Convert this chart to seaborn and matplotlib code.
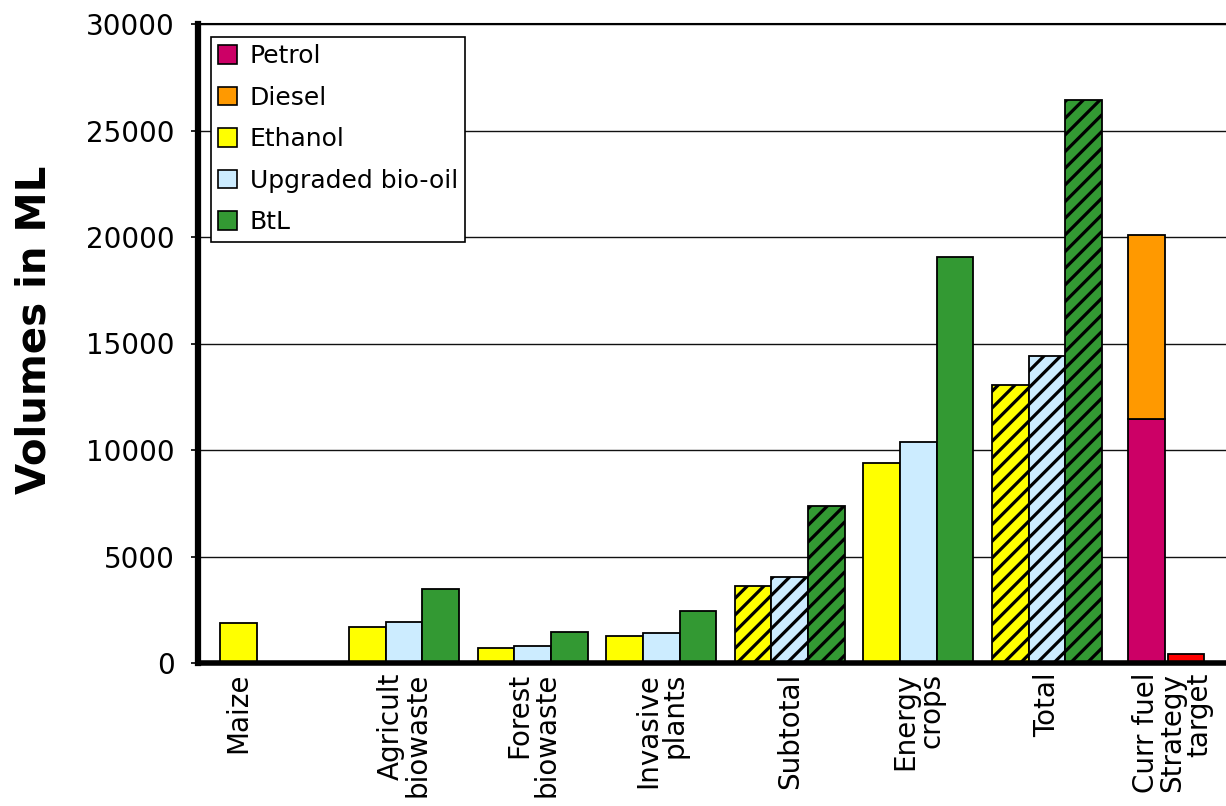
import matplotlib
matplotlib.use("Agg")
import matplotlib.pyplot as plt
import seaborn as sns
import pandas as pd
from matplotlib.patches import Patch

# ---- data (volumes in ML) ----
sources = ["Maize", "Agricult\nbiowaste", "Forest\nbiowaste", "Invasive\nplants",
           "Subtotal", "Energy\ncrops", "Total"]
ethanol = [1890, 1710, 710, 1255, 3635, 9370, 13060]
bio_oil = [None, 1930, 805, 1400, 4025, 10375, 14420]
btl = [None, 3460, 1460, 2460, 7390, 19070, 26430]
hatched_sources = ["Subtotal", "Total"]

curr_fuel_label = "Curr fuel"
target_label = "Strategy\ntarget"
petrol = 11450
diesel = 8650
strategy_target = 400

fuels = ["Petrol", "Diesel", "Ethanol", "Upgraded bio-oil", "BtL"]
colors = {"Petrol": "#CC0066", "Diesel": "#FF9900", "Ethanol": "#FFFF00",
          "Upgraded bio-oil": "#CCECFF", "BtL": "#339933"}
target_color = "#FF0000"

yticks = [0, 5000, 10000, 15000, 20000, 25000, 30000]

# ---- long-form table for the biofuel groups ----
rows = []
for i, src in enumerate(sources):
    for fuel, vals in (("Ethanol", ethanol), ("Upgraded bio-oil", bio_oil), ("BtL", btl)):
        if vals[i] is not None:
            rows.append({"source": src, "fuel": fuel, "volume": vals[i]})
df = pd.DataFrame(rows)
order = sources + [curr_fuel_label]
bio_fuels = ["Ethanol", "Upgraded bio-oil", "BtL"]

sns.set_style("white")
plt.rcParams["font.family"] = ["DejaVu Sans"]
plt.rcParams["text.color"] = "black"
plt.rcParams["xtick.color"] = "black"
plt.rcParams["ytick.color"] = "black"
plt.rcParams["hatch.linewidth"] = 2.3

W, H, DPI = 1226, 806, 100
fig = plt.figure(figsize=(W / DPI, H / DPI), dpi=DPI)
ax = fig.add_axes([198 / W, (H - 663) / H, 1 - 198 / W, (663 - 24) / H])

group_width = 0.856
bar_w = group_width / 3

sns.barplot(data=df, x="source", y="volume", hue="fuel", order=order,
            hue_order=bio_fuels, palette=colors, saturation=1, width=group_width,
            edgecolor="black", linewidth=1.3, legend=False, ax=ax, zorder=3)

# hatch the aggregate groups
hatched_idx = [order.index(s) for s in hatched_sources]
for p in ax.patches:
    cx = p.get_x() + p.get_width() / 2
    if any(abs(cx - k) < 0.5 for k in hatched_idx):
        p.set_hatch("//")

# current fuel use (stacked) and strategy target
k = order.index(curr_fuel_label)
pair_center = k - 0.074
gap = 0.024
x_petrol = pair_center - (bar_w + gap) / 2
x_target = pair_center + (bar_w + gap) / 2
ax.bar(x_petrol, petrol, width=bar_w, color=colors["Petrol"],
       edgecolor="black", linewidth=1.3, zorder=3)
ax.bar(x_petrol, diesel, bottom=petrol, width=bar_w, color=colors["Diesel"],
       edgecolor="black", linewidth=1.3, zorder=3)
ax.bar(x_target, strategy_target, width=bar_w, color=target_color,
       edgecolor="black", linewidth=1.3, zorder=3)

# ---- axes styling ----
ax.set_xlim(-0.602, 7.392)
ax.set_ylim(0, 30000)
ax.set_yticks(yticks)
ax.set_yticklabels([str(v) for v in yticks], fontsize=20, color="black")
ax.yaxis.grid(True, color="#111111", linewidth=1.0, zorder=0)
ax.xaxis.grid(False)
ax.set_axisbelow(True)

xtick_pos = [0 - bar_w] + list(range(1, len(sources))) + [x_petrol, x_target]
xtick_lab = sources + [curr_fuel_label, target_label]
ax.set_xticks(xtick_pos)
ax.set_xticklabels(xtick_lab, rotation=90, fontsize=20, va="top", ha="center",
                   multialignment="right", linespacing=0.95, color="black")
ax.tick_params(axis="x", length=0, pad=7)
ax.tick_params(axis="y", length=5, width=1.2, color="black", left=True, pad=12)

ax.set_xlabel("")
ax.set_ylabel("")
ax.spines["left"].set_linewidth(4.5)
ax.spines["bottom"].set_linewidth(4.0)
ax.spines["top"].set_linewidth(1.5)
ax.spines["right"].set_visible(False)
for s in ("left", "bottom", "top"):
    ax.spines[s].set_color("black")
    ax.spines[s].set_zorder(5)

fig.text(35 / W, 1 - 330 / H, "Volumes in ML", rotation=90, fontsize=29,
         fontweight="bold", ha="center", va="center", color="black")

handles = [Patch(facecolor=colors[f], edgecolor="black", linewidth=1.2, label=f)
           for f in fuels]
leg = ax.legend(handles=handles, loc="upper left", bbox_to_anchor=(0.0125, 0.98),
                fontsize=18, frameon=True, fancybox=False, shadow=False,
                handlelength=0.75, handleheight=0.75, handletextpad=0.5,
                labelspacing=0.7, borderpad=0.3, borderaxespad=0.0)
leg.get_frame().set_edgecolor("black")
leg.get_frame().set_linewidth(1.2)
leg.get_frame().set_alpha(1.0)
leg.set_zorder(6)
for t in leg.get_texts():
    t.set_color("black")

fig.savefig("out.png", dpi=DPI)
